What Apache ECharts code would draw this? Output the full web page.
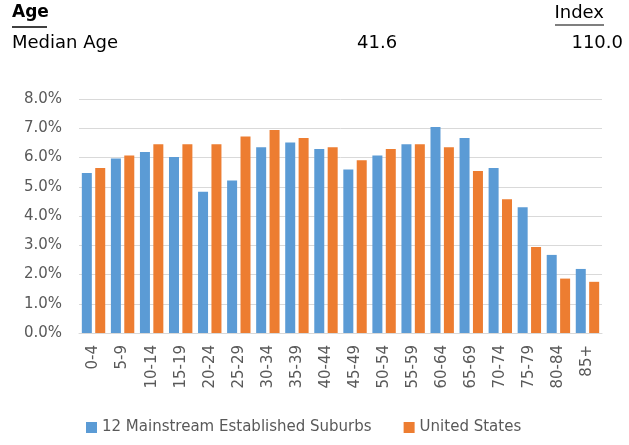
<!DOCTYPE html>
<html>
<head>
<meta charset="utf-8">
<script src="https://cdn.jsdelivr.net/npm/echarts@6/dist/echarts.min.js"></script>
<style>
  html, body { margin: 0; padding: 0; background: #fff; }
  #chart { width: 629px; height: 445px; }
</style>
</head>
<body>
<div id="chart"></div>
<script>
var ageGroups = ['0-4', '5-9', '10-14', '15-19', '20-24', '25-29', '30-34', '35-39', '40-44',
  '45-49', '50-54', '55-59', '60-64', '65-69', '70-74', '75-79', '80-84', '85+'];
// percent of population
var suburbs = [5.47, 5.97, 6.19, 6.02, 4.83, 5.21, 6.35, 6.51, 6.29,
  5.59, 6.07, 6.45, 7.04, 6.67, 5.64, 4.30, 2.67, 2.19];
var unitedStates = [5.64, 6.07, 6.45, 6.45, 6.45, 6.72, 6.94, 6.67, 6.35,
  5.91, 6.29, 6.45, 6.35, 5.54, 4.57, 2.94, 1.86, 1.75];
var medianAge = '41.6';
var medianIndex = '110.0';

var myChart = echarts.init(document.getElementById('chart'));

var font = 'DejaVu Sans';
var grey = '#595959';

var option = {
  animation: false,
  textStyle: { fontFamily: font },
  // header table above the chart
  graphic: [
    { type: 'text', left: 12, top: 4, style: { text: 'Age', font: 'bold 17px "DejaVu Sans"', fill: '#000' } },
    { type: 'line', shape: { x1: 12, y1: 27, x2: 47, y2: 27 }, style: { stroke: '#000', lineWidth: 1.5 } },
    { type: 'text', right: 25, top: 4, style: { text: 'Index', font: '18px "DejaVu Sans"', fill: '#000' } },
    { type: 'line', shape: { x1: 555, y1: 25, x2: 604, y2: 25 }, style: { stroke: '#000', lineWidth: 1.2 } },
    { type: 'text', left: 12, top: 34, style: { text: 'Median Age', font: '18px "DejaVu Sans"', fill: '#000' } },
    { type: 'text', left: 357, top: 34, style: { text: medianAge, font: '18px "DejaVu Sans"', fill: '#000' } },
    { type: 'text', right: 6, top: 34, style: { text: medianIndex, font: '18px "DejaVu Sans"', fill: '#000' } }
  ],
  legend: {
    bottom: 5,
    left: 81,
    itemWidth: 11,
    itemHeight: 11,
    itemGap: 32,
    icon: 'rect',
    textStyle: { fontSize: 15, color: grey, fontFamily: font },
    data: ['12 Mainstream Established Suburbs', 'United States']
  },
  grid: {
    left: 79,
    right: 27,
    top: 99,
    bottom: 112
  },
  xAxis: {
    type: 'category',
    data: ageGroups,
    axisTick: { show: false },
    axisLine: { lineStyle: { color: '#d9d9d9' } },
    axisLabel: {
      rotate: 90,
      interval: 0,
      margin: 12,
      fontSize: 15,
      color: grey,
      fontFamily: font
    }
  },
  yAxis: {
    type: 'value',
    min: 0,
    max: 8,
    interval: 1,
    axisLine: { show: false },
    axisTick: { show: false },
    splitLine: { lineStyle: { color: '#d9d9d9' } },
    axisLabel: {
      margin: 17,
      fontSize: 15,
      color: grey,
      fontFamily: font,
      formatter: function (v) { return v.toFixed(1) + '%'; }
    }
  },
  series: [
    {
      name: '12 Mainstream Established Suburbs',
      type: 'bar',
      data: suburbs,
      barWidth: 10,
      barGap: '34%',
      itemStyle: { color: '#5B9BD5' }
    },
    {
      name: 'United States',
      type: 'bar',
      data: unitedStates,
      barWidth: 10,
      itemStyle: { color: '#ED7D31' }
    }
  ]
};

myChart.setOption(option);
</script>
</body>
</html>
